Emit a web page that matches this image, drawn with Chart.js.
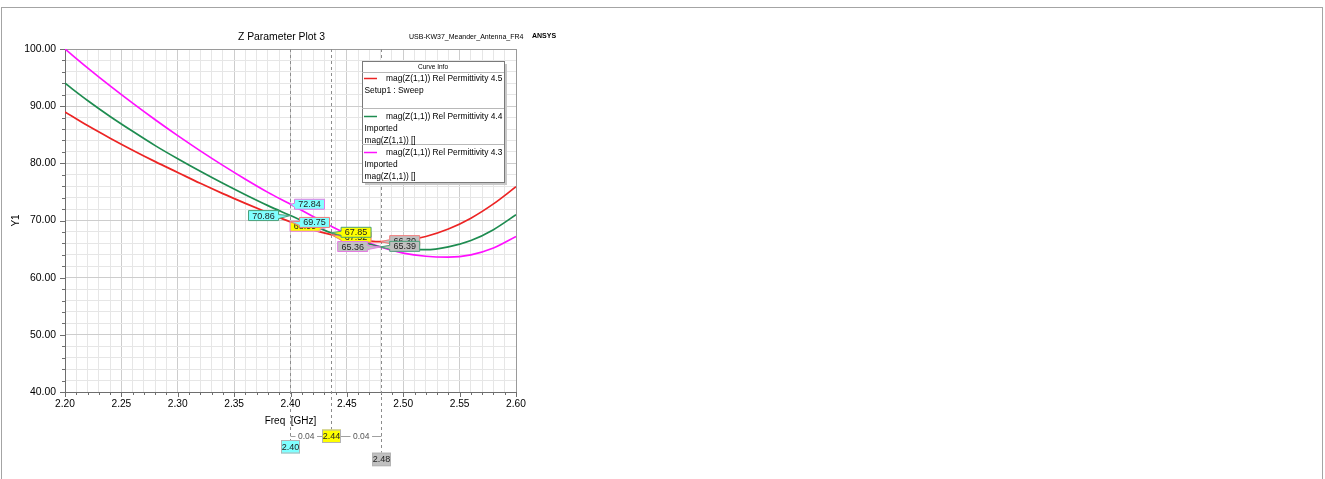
<!DOCTYPE html>
<html>
<head>
<meta charset="utf-8">
<script src="https://cdn.jsdelivr.net/npm/chart.js@4.4.1/dist/chart.umd.min.js"></script>
<style>
  html, body { margin: 0; padding: 0; background: #fff; overflow: hidden; }
  canvas { display: block; }
</style>
</head>
<body>
<canvas id="plot" width="1325" height="479"></canvas>
<script>
// Frequency sweep points (GHz) and |Z11| for the three substrate permittivities
const freqGHz      = [2.20, 2.22, 2.24, 2.26, 2.28, 2.30, 2.32, 2.34, 2.36, 2.38, 2.40, 2.42, 2.436, 2.46, 2.48, 2.50, 2.52, 2.54, 2.56, 2.58, 2.60];
const magZ11_er45  = [89.00, 86.60, 84.40, 82.30, 80.30, 78.40, 76.50, 74.70, 73.00, 71.35, 69.75, 68.35, 67.52, 66.62, 66.30, 66.45, 67.20, 68.50, 70.40, 72.90, 75.90];
const magZ11_er44  = [94.00, 91.00, 88.20, 85.60, 83.10, 80.80, 78.60, 76.50, 74.50, 72.60, 70.86, 69.10, 67.85, 66.45, 65.39, 64.95, 64.90, 65.40, 66.50, 68.40, 71.00];
const magZ11_er43  = [100.00, 96.70, 93.54, 90.52, 87.62, 84.84, 82.18, 79.64, 77.22, 74.92, 72.84, 70.70, 68.99, 66.80, 65.36, 64.30, 63.75, 63.60, 64.00, 65.20, 67.20];

const seriesNames  = ['mag(Z(1,1)) Rel Permittivity 4.5', 'mag(Z(1,1)) Rel Permittivity 4.4', 'mag(Z(1,1)) Rel Permittivity 4.3'];
const seriesNotes  = [['Setup1 : Sweep'], ['Imported', 'mag(Z(1,1)) []'], ['Imported', 'mag(Z(1,1)) []']];
const seriesColors = ['#ec2424', '#1e8c50', '#ff10ff'];

// Marker frequencies (GHz)
const markerFreqs  = [2.40, 2.436, 2.48];

// Axis tick labels
const xTickLabels  = ['2.20', '2.25', '2.30', '2.35', '2.40', '2.45', '2.50', '2.55', '2.60'];
const yTickLabels  = ['40.00', '50.00', '60.00', '70.00', '80.00', '90.00', '100.00'];

const FONT = '"Liberation Sans", Arial, sans-serif';
const xTickValues = xTickLabels.map(Number);
const yTickValues = yTickLabels.map(Number);
const near = (a, b) => Math.abs(a - b) < 1e-6;

// marker styling: fill colour per marker, label side/gap per trace, draw order
const markerFill = ['#80ffff', '#ffff00', '#c0c0c0'];
const labelBorder = ['#f07a7a', '#4aa07a', '#e27ae2'];
// [marker][series] -> side (+1 right of point, -1 left) and gap
const labelPlace = [
  [[+1, 9], [-1, 12], [+1, 4]],
  [[+1, 10], [+1, 10], [-1, 11]],
  [[+1, 9], [+1, 9], [-1, 13]]
];
const labelDy = [
  [0.5, 0, 0],
  [2.5, -0.5, 0],
  [-1, -0.5, -0.5]
];
const markerOrder = [[1, [0, 2, 1]], [0, [2, 0, 1]], [2, [0, 1, 2]]];
const markerBoxTop = [440, 429.5, 452.7];

const series = [magZ11_er45, magZ11_er44, magZ11_er43];

const pagePlugin = {
  id: 'page',
  beforeDraw(chart) {
    const c = chart.ctx;
    c.save();
    c.fillStyle = '#ffffff';
    c.fillRect(0, 0, chart.width, chart.height);
    c.restore();
  },
  afterDraw(chart) {
    const c = chart.ctx;
    c.save();
    // outer frame
    c.strokeStyle = '#a4a4a4';
    c.lineWidth = 1;
    c.strokeRect(1.5, 7.5, 1321, 480);
    // titles
    c.fillStyle = '#000';
    c.textBaseline = 'middle';
    c.textAlign = 'center';
    c.font = '10.4px ' + FONT;
    c.fillText('Z Parameter Plot 3', 281.5, 37.5);
    c.textAlign = 'left';
    c.font = '7px ' + FONT;
    c.fillText('USB-KW37_Meander_Antenna_FR4', 409, 37.5);
    c.font = 'bold 7px ' + FONT;
    c.fillText('ANSYS', 532, 36.5);
    c.restore();
  }
};

const axesPlugin = {
  id: 'axesDecor',
  beforeDatasetsDraw(chart) {
    const c = chart.ctx, a = chart.chartArea;
    const xs = chart.scales.x, ys = chart.scales.y;
    c.save();
    // top and right plot border
    c.strokeStyle = '#9a9a9a';
    c.lineWidth = 1;
    c.beginPath();
    c.moveTo(a.left, a.top + 0.5); c.lineTo(a.right + 0.5, a.top + 0.5);
    c.moveTo(a.right + 0.5, a.top); c.lineTo(a.right + 0.5, a.bottom);
    c.stroke();
    // tick marks
    c.strokeStyle = '#6e6e6e';
    c.beginPath();
    for (let v = 40; v <= 100; v += 2) {
      const py = Math.round(ys.getPixelForValue(v)) + 0.5;
      const len = v % 10 === 0 ? 5 : 3;
      c.moveTo(a.left - len, py); c.lineTo(a.left, py);
    }
    for (let i = 0; i <= 40; i++) {
      const px = Math.round(xs.getPixelForValue(2.2 + i * 0.01)) + 0.5;
      const len = i % 5 === 0 ? 5 : 3;
      c.moveTo(px, a.bottom); c.lineTo(px, a.bottom + len);
    }
    c.stroke();
    // marker lines
    c.strokeStyle = '#8c8c8c';
    c.setLineDash([3, 3]);
    c.beginPath();
    markerFreqs.forEach((f, m) => {
      const px = Math.round(xs.getPixelForValue(f)) + 0.5;
      c.moveTo(px, a.top); c.lineTo(px, markerBoxTop[m]);
    });
    c.stroke();
    c.setLineDash([]);
    c.restore();
  }
};

function drawValueLabel(c, ax, ay, text, fill, stroke, side, gap, dy) {
  const w = 30, h = 10;
  const cy = ay + dy;
  const bx = side > 0 ? ax + gap : ax - gap - w;
  c.beginPath();
  if (side > 0) {
    c.moveTo(bx, cy - h / 2);
    c.lineTo(bx + w, cy - h / 2);
    c.lineTo(bx + w, cy + h / 2);
    c.lineTo(bx, cy + h / 2);
    c.lineTo(bx, cy + 3);
    c.lineTo(ax, ay);
    c.lineTo(bx, cy - 1);
  } else {
    c.moveTo(bx + w, cy - h / 2);
    c.lineTo(bx, cy - h / 2);
    c.lineTo(bx, cy + h / 2);
    c.lineTo(bx + w, cy + h / 2);
    c.lineTo(bx + w, cy + 3);
    c.lineTo(ax, ay);
    c.lineTo(bx + w, cy - 1);
  }
  c.closePath();
  c.fillStyle = fill;
  c.fill();
  c.strokeStyle = stroke;
  c.lineWidth = 1;
  c.stroke();
  c.fillStyle = '#1e1e1e';
  c.font = '9px ' + FONT;
  c.textAlign = 'center';
  c.textBaseline = 'middle';
  c.fillText(text, bx + w / 2, cy + 0.5);
}

const markerPlugin = {
  id: 'markers',
  afterDatasetsDraw(chart) {
    const c = chart.ctx;
    const xs = chart.scales.x, ys = chart.scales.y;
    c.save();
    // value labels at each marker
    markerOrder.forEach(([m, order]) => {
      const f = markerFreqs[m];
      const idx = freqGHz.findIndex(v => near(v, f));
      const ax = xs.getPixelForValue(f);
      order.forEach(s => {
        const val = series[s][idx];
        const ay = ys.getPixelForValue(val);
        const [side, gap] = labelPlace[m][s];
        drawValueLabel(c, ax, ay, val.toFixed(2), markerFill[m], labelBorder[s], side, gap, labelDy[m][s]);
      });
    });
    // frequency boxes below the axis
    const px = markerFreqs.map(f => Math.round(xs.getPixelForValue(f)) + 0.5);
    const bw = 19, bh = 13.5;
    // spacing annotations between markers
    const dY = 436.5;
    c.strokeStyle = '#a0a0a0';
    c.lineWidth = 1;
    c.beginPath();
    c.moveTo(px[0], dY); c.lineTo(px[1] - bw / 2, dY);
    c.moveTo(px[1] + bw / 2, dY); c.lineTo(px[2], dY);
    c.stroke();
    c.font = '8.5px ' + FONT;
    c.textAlign = 'center';
    c.textBaseline = 'middle';
    const deltas = [
      [(px[0] + px[1] - bw / 2) / 2, (markerFreqs[1] - markerFreqs[0]).toFixed(2)],
      [(px[1] + bw / 2 + px[2]) / 2, (markerFreqs[2] - markerFreqs[1]).toFixed(2)]
    ];
    deltas.forEach(([x, t]) => {
      const tw = c.measureText(t).width;
      c.fillStyle = '#fff';
      c.fillRect(x - tw / 2 - 2.5, dY - 4, tw + 5, 8);
      c.fillStyle = '#555';
      c.fillText(t, x, dY + 0.5);
    });
    markerFreqs.forEach((f, m) => {
      const x0 = px[m] - bw / 2, y0 = markerBoxTop[m];
      c.fillStyle = markerFill[m];
      c.fillRect(x0, y0, bw, bh);
      c.strokeStyle = '#b4b4b4';
      c.strokeRect(x0 + 0.5, y0 + 0.5, bw - 1, bh - 1);
      c.fillStyle = '#222';
      c.font = '9px ' + FONT;
      c.fillText(f.toFixed(2), px[m], y0 + bh / 2 + 0.5);
    });
    c.restore();
  }
};

const legendPlugin = {
  id: 'curveInfo',
  afterDraw(chart) {
    const c = chart.ctx;
    const L = 362, T = 61, W = 142, H = 121;
    c.save();
    c.fillStyle = '#c8c8c8';
    c.fillRect(L + 3, T + 3, W, H);
    c.fillStyle = '#fff';
    c.fillRect(L, T, W, H);
    c.strokeStyle = '#7a7a7a';
    c.lineWidth = 1;
    c.strokeRect(L + 0.5, T + 0.5, W, H);
    c.fillStyle = '#000';
    c.font = '6.5px ' + FONT;
    c.textAlign = 'center';
    c.textBaseline = 'middle';
    c.fillText('Curve Info', L + W / 2, T + 6);
    c.strokeStyle = '#b8b8b8';
    c.beginPath();
    [T + 11.5, T + 47.5, T + 83.5].forEach(y => { c.moveTo(L, y); c.lineTo(L + W, y); });
    c.stroke();
    const rowTop = [T + 17.5, T + 55.5, T + 91.5];
    chart.data.datasets.forEach((ds, i) => {
      const y = rowTop[i];
      c.strokeStyle = ds.borderColor;
      c.lineWidth = 1.5;
      c.beginPath();
      c.moveTo(L + 2, y); c.lineTo(L + 15, y);
      c.stroke();
      c.fillStyle = '#000';
      c.font = '8.4px ' + FONT;
      c.textAlign = 'left';
      c.fillText(ds.label, L + 24, y + 0.5);
      seriesNotes[i].forEach((t, k) => {
        c.fillText(t, L + 2.5, y + 12.5 + k * 11.3);
      });
    });
    c.restore();
  }
};

const ctx = document.getElementById('plot').getContext('2d');
new Chart(ctx, {
  type: 'line',
  data: {
    datasets: series.map((vals, i) => ({
      label: seriesNames[i],
      data: freqGHz.map((f, k) => ({ x: f, y: vals[k] })),
      borderColor: seriesColors[i],
      borderWidth: 1.7,
      pointRadius: 0,
      fill: false,
      cubicInterpolationMode: 'monotone'
    }))
  },
  options: {
    responsive: false,
    animation: false,
    devicePixelRatio: 1,
    layout: { padding: { top: 49, right: 809, bottom: 0, left: 0 } },
    plugins: { legend: { display: false }, tooltip: { enabled: false }, title: { display: false } },
    scales: {
      x: {
        type: 'linear',
        min: 2.2, max: 2.6,
        afterFit(s) { s.height = 87; },
        ticks: {
          stepSize: 0.01, autoSkip: false, maxRotation: 0, minRotation: 0,
          padding: 6, color: '#000', font: { family: FONT, size: 10.2 },
          callback(v) { const i = xTickValues.findIndex(t => near(t, v)); return i >= 0 ? xTickLabels[i] : ''; }
        },
        grid: {
          drawTicks: false, lineWidth: 1,
          color(c) { const v = c.tick ? c.tick.value : 0; return xTickValues.some(t => near(t, v)) ? '#cdcdcd' : '#e6e6e6'; }
        },
        border: { display: true, color: '#6e6e6e', width: 1 },
        title: { display: true, text: 'Freq  [GHz]', color: '#000', font: { family: FONT, size: 10 }, padding: { top: 0, bottom: 52 } }
      },
      y: {
        min: 40, max: 100,
        afterFit(s) { s.width = 65; },
        ticks: {
          stepSize: 2, autoSkip: false, padding: 9, color: '#000', font: { family: FONT, size: 10.4 },
          callback(v) { const i = yTickValues.findIndex(t => near(t, v)); return i >= 0 ? yTickLabels[i] : ''; }
        },
        grid: {
          drawTicks: false, lineWidth: 1,
          color(c) { const v = c.tick ? c.tick.value : 0; return yTickValues.some(t => near(t, v)) ? '#cdcdcd' : '#e6e6e6'; }
        },
        border: { display: true, color: '#6e6e6e', width: 1 },
        title: { display: true, text: 'Y1', color: '#000', font: { family: FONT, size: 10 }, padding: { top: 10, bottom: 0 } }
      }
    }
  },
  plugins: [pagePlugin, axesPlugin, markerPlugin, legendPlugin]
});
</script>
</body>
</html>
